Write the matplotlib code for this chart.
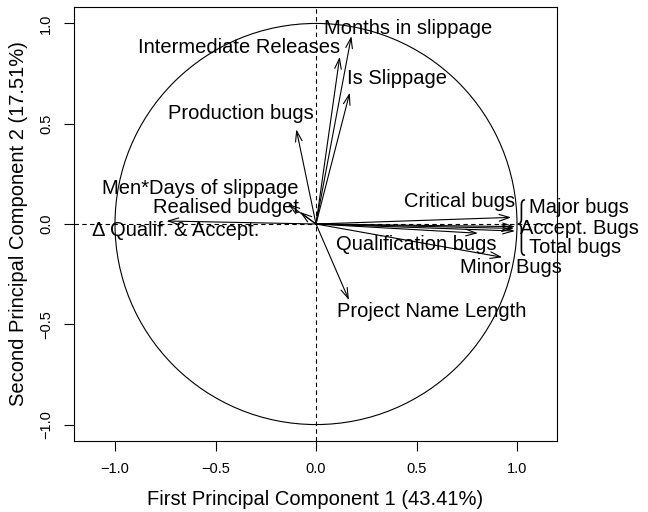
import numpy as np
import matplotlib
matplotlib.use("Agg")
import matplotlib.pyplot as plt
from matplotlib.path import Path
from matplotlib.patches import PathPatch, Circle

plt.rcParams['font.family'] = ['Liberation Sans', 'DejaVu Sans']

# variable loadings on PC1 / PC2 (arrow tips)
variables = ["Months in slippage", "Intermediate Releases", "Is Slippage",
             "Production bugs", "Men*Days of slippage", "Realised budget",
             "Δ Qualif. & Accept.", "Critical bugs", "Major bugs",
             "Accept. Bugs", "Total bugs", "Qualification bugs",
             "Minor Bugs", "Project Name Length"]
pc1 = [0.176, 0.118, 0.168, -0.098, -0.140, -0.080, -0.744, 0.972,
       0.990, 0.985, 0.990, 0.806, 0.927, 0.164]
pc2 = [0.937, 0.834, 0.655, 0.472, 0.100, 0.060, 0.015, 0.033,
       -0.013, -0.022, -0.035, -0.046, -0.166, -0.379]
# label positions (data coords)
lab_x = [0.456, -0.385, 0.401, -0.375, -0.574, -0.449, -0.698, 0.715,
         1.307, 1.312, 1.287, 0.501, 0.969, 0.576]
lab_y = [0.977, 0.882, 0.723, 0.553, 0.179, 0.080, -0.030, 0.110,
         0.080, -0.020, -0.115, -0.100, -0.219, -0.434]

ticks = [-1.0, -0.5, 0.0, 0.5, 1.0]
tick_labels = ["\u22121.0", "\u22120.5", "0.0", "0.5", "1.0"]
xlabel = "First Principal Component 1 (43.41%)"
ylabel = "Second Principal Component 2 (17.51%)"

fig = plt.figure(figsize=(6.48, 5.12), dpi=100)
ax = fig.add_axes([74/648, 1-441/512, (557-74)/648, (441-7)/512])
ax.set_xlim(-1.204, 1.199)
ax.set_ylim(-1.082, 1.082)

lw = 0.8
ax.add_patch(Circle((0, 0), 1.0, fill=False, lw=lw, color='black'))
ax.axhline(0, ls=(0, (4, 3)), lw=lw, color='black')
ax.axvline(0, ls=(0, (4, 3)), lw=lw, color='black')

for x, y in zip(pc1, pc2):
    ax.annotate("", xy=(x, y), xytext=(0, 0),
                arrowprops=dict(arrowstyle='->,head_length=0.75,head_width=0.24',
                                lw=lw, color='black', shrinkA=0, shrinkB=0))

for name, x, y in zip(variables, lab_x, lab_y):
    ax.text(x, y, name, ha='center', va='center', fontsize=14.5, clip_on=False)

# curly brace grouping Major / Accept. / Total bugs
def brace(ax, x, y0, y1, ym, w):
    c = 0.025
    verts = [(x + w*0.5, y0), (x, y0), (x, y0 - c),
             (x, ym + c), (x, ym), (x - w*0.5, ym),
             (x - w*0.5, ym), (x, ym), (x, ym - c),
             (x, y1 + c), (x, y1), (x + w*0.5, y1)]
    codes = [Path.MOVETO, Path.CURVE3, Path.CURVE3,
             Path.LINETO, Path.CURVE3, Path.CURVE3,
             Path.MOVETO, Path.CURVE3, Path.CURVE3,
             Path.LINETO, Path.CURVE3, Path.CURVE3]
    ax.add_patch(PathPatch(Path(verts, codes), fill=False, lw=1.2,
                           color='black', clip_on=False, capstyle='round'))

brace(ax, 1.022, 0.12, -0.155, 0.0, 0.03)

ax.set_xticks(ticks)
ax.set_xticklabels(tick_labels, fontsize=10.5)
ax.set_yticks(ticks)
ax.set_yticklabels(tick_labels, fontsize=10.5, rotation=90, va='center')
ax.tick_params(direction='out', length=7, width=0.8, pad=8)
for s in ax.spines.values():
    s.set_linewidth(0.8)

ax.set_xlabel(xlabel, fontsize=14.5, labelpad=10)
ax.set_ylabel(ylabel, fontsize=14.5, labelpad=8)

fig.savefig("out.png", dpi=100)
